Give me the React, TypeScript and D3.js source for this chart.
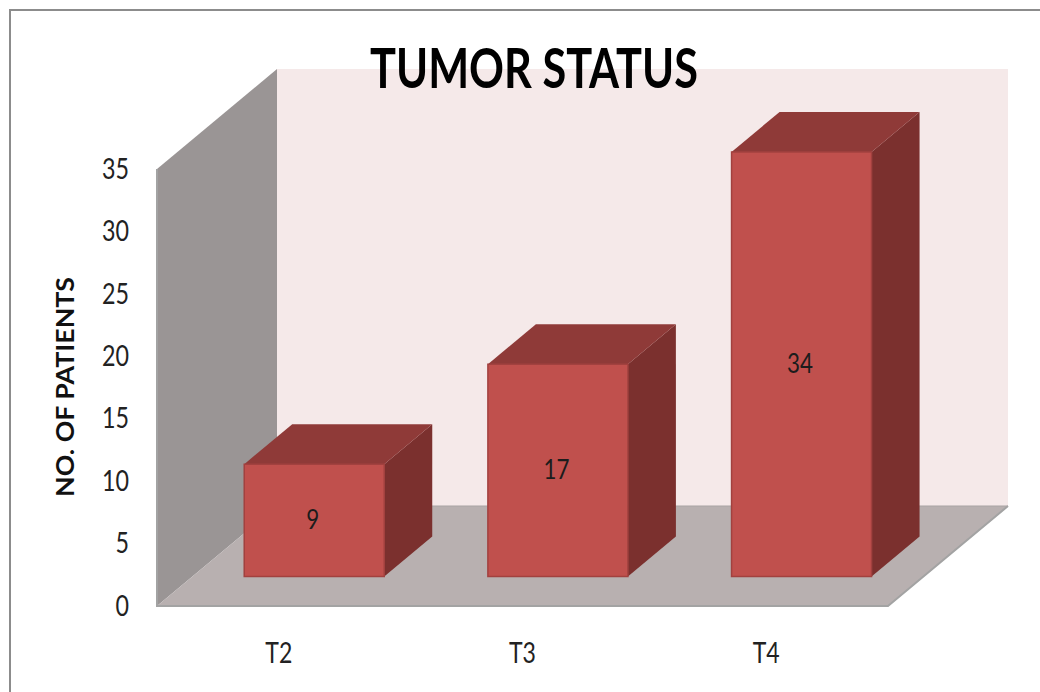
import React, { useEffect, useRef } from 'react';
import * as d3 from 'd3';

const categories = ['T2', 'T3', 'T4'];
const patients = [9, 17, 34];
const yTicks = [0, 5, 10, 15, 20, 25, 30, 35];

const width = 1040;
const height = 692;

const App = () => {
  const chartRef = useRef<SVGSVGElement>(null);

  useEffect(() => {
    const svg = d3.select(chartRef.current);
    svg.selectAll('*').remove();

    const x = d3
      .scaleBand()
      .domain(categories)
      .range([157, 888])
      .paddingInner(0.4254)
      .paddingOuter(0.2127);
    const y = d3.scaleLinear().domain([0, 35]).range([606, 169]);

    // oblique projection, depth 0 = front of the floor, 1 = back wall
    const depthX = d3.scaleLinear().domain([0, 1]).range([0, 120]);
    const depthY = d3.scaleLinear().domain([0, 1]).range([0, -100]);
    const pt = (px: number, value: number, depth: number): [number, number] => [
      px + depthX(depth),
      y(value) + depthY(depth),
    ];
    const poly = d3.line().curve(d3.curveLinearClosed);

    const font = 'Lato, sans-serif';
    const left = x.range()[0];
    const right = x.range()[1];
    const maxV = y.domain()[1];

    // outer frame
    svg
      .append('path')
      .attr('d', 'M10,692 V10 H1040')
      .attr('fill', 'none')
      .attr('stroke', '#8c8c8c')
      .attr('stroke-width', 2);

    // walls and floor
    svg
      .append('path')
      .attr('d', poly([pt(left, 0, 1), pt(right, 0, 1), pt(right, maxV, 1), pt(left, maxV, 1)]))
      .attr('fill', '#f5e9e9');
    svg
      .append('path')
      .attr('d', poly([pt(left, 0, 0), pt(left, 0, 1), pt(left, maxV, 1), pt(left, maxV, 0)]))
      .attr('fill', '#9a9595');
    svg
      .append('path')
      .attr('d', poly([pt(left, 0, 0), pt(right, 0, 0), pt(right, 0, 1), pt(left, 0, 1)]))
      .attr('fill', '#b8b0b0');
    svg
      .append('path')
      .attr('d', d3.line()([pt(left, maxV, 0), pt(left, 0, 0), pt(right, 0, 0), pt(right, 0, 1)]))
      .attr('fill', 'none')
      .attr('stroke', '#a3a3a3')
      .attr('stroke-width', 2);
    svg
      .append('path')
      .attr('d', d3.line()([pt(left, 0, 1), pt(right, 0, 1)]))
      .attr('fill', 'none')
      .attr('stroke', '#a8a3a3')
      .attr('stroke-width', 1);

    // bars
    const d0 = 0.295;
    const d1 = 0.695;
    const bars = svg
      .selectAll('.bar')
      .data(categories.map((name, i) => ({ name, value: patients[i] })))
      .enter()
      .append('g')
      .attr('class', 'bar');

    bars
      .append('path')
      .attr('d', (d) => {
        const a = x(d.name)!;
        const b = a + x.bandwidth();
        return poly([pt(b, 0, d0), pt(b, 0, d1), pt(b, d.value, d1), pt(b, d.value, d0)]);
      })
      .attr('fill', '#7b302e');
    bars
      .append('path')
      .attr('d', (d) => {
        const a = x(d.name)!;
        const b = a + x.bandwidth();
        return poly([pt(a, d.value, d0), pt(b, d.value, d0), pt(b, d.value, d1), pt(a, d.value, d1)]);
      })
      .attr('fill', '#8f3a38');
    bars
      .append('path')
      .attr('d', (d) => {
        const a = x(d.name)!;
        const b = a + x.bandwidth();
        return poly([pt(a, 0, d0), pt(b, 0, d0), pt(b, d.value, d0), pt(a, d.value, d0)]);
      })
      .attr('fill', '#c0504d')
      .attr('stroke', '#a2413f')
      .attr('stroke-width', 1.5);

    // value labels in the middle of the front face
    bars
      .append('text')
      .attr('x', (d) => pt(x(d.name)! + x.bandwidth() / 2, 0, d0)[0] - 1.5)
      .attr('y', (d) => pt(0, d.value / 2, d0)[1] + 9)
      .attr('text-anchor', 'middle')
      .attr('font-family', font)
      .attr('font-size', 26)
      .attr('textLength', (d) => String(d.value).length * 13)
      .attr('lengthAdjust', 'spacingAndGlyphs')
      .attr('fill', '#1c1c1c')
      .text((d) => d.value);

    // y axis
    const axisY = svg
      .append('g')
      .attr('transform', 'translate(134,0)')
      .call(d3.axisLeft(y).tickValues(yTicks).tickSize(0).tickPadding(5));
    axisY.select('.domain').remove();
    axisY
      .selectAll('text')
      .attr('font-family', font)
      .attr('font-size', 29)
      .attr('textLength', (d) => String(d).length * 13.5)
      .attr('lengthAdjust', 'spacingAndGlyphs')
      .attr('fill', '#222')
      .attr('dy', '0.32em');

    // x axis
    const axisX = svg
      .append('g')
      .attr('transform', 'translate(0,643)')
      .call(d3.axisBottom(x).tickSize(0).tickPadding(0));
    axisX.select('.domain').remove();
    axisX
      .selectAll('text')
      .attr('font-family', font)
      .attr('font-size', 28)
      .attr('textLength', 27)
      .attr('lengthAdjust', 'spacingAndGlyphs')
      .attr('fill', '#222')
      .attr('dy', '0.71em');

    svg
      .append('text')
      .attr('transform', 'translate(74,387) rotate(-90)')
      .attr('text-anchor', 'middle')
      .attr('font-family', font)
      .attr('font-weight', 700)
      .attr('font-size', 25)
      .attr('textLength', 220)
      .attr('lengthAdjust', 'spacingAndGlyphs')
      .attr('fill', '#111')
      .text('NO. OF PATIENTS');

    svg
      .append('text')
      .attr('x', 534)
      .attr('y', 88)
      .attr('text-anchor', 'middle')
      .attr('font-family', font)
      .attr('font-weight', 700)
      .attr('font-size', 55)
      .attr('textLength', 328)
      .attr('lengthAdjust', 'spacingAndGlyphs')
      .attr('fill', '#000')
      .text('TUMOR STATUS');
  }, []);

  return (
    <svg
      ref={chartRef}
      width={width}
      height={height}
      style={{ position: 'absolute', left: 0, top: 0, background: '#fff' }}
    ></svg>
  );
};

export default App;
